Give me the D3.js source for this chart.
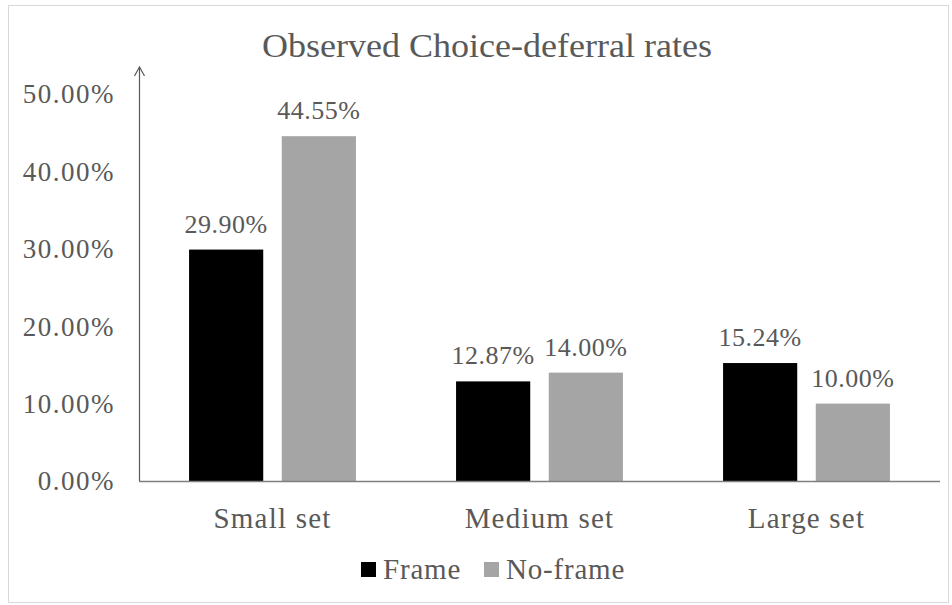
<!DOCTYPE html>
<html>
<head>
<meta charset="utf-8">
<script src="https://cdn.jsdelivr.net/npm/d3@7"></script>
<style>
  body { margin: 0; background: #fff; }
  text { font-family: "Liberation Serif", "Times New Roman", serif; fill: #595959; }
</style>
</head>
<body>
<script>
// data
var categories = ["Small set", "Medium set", "Large set"];
var seriesNames = ["Frame", "No-frame"];
var frameValues = [29.90, 12.87, 15.24];
var noFrameValues = [44.55, 14.00, 10.00];
var yTicks = [0, 10, 20, 30, 40, 50];
var colors = ["#000000", "#a5a5a5"];

var width = 952, height = 605;
var margin = {left: 139, right: 12, top: 94, bottom: 124};

var svg = d3.select("body").append("svg")
  .attr("width", width)
  .attr("height", height);

// outer border
svg.append("rect")
  .attr("x", 8.5).attr("y", 5.5)
  .attr("width", 940).attr("height", 597)
  .attr("fill", "none")
  .attr("stroke", "#d9d9d9");

var x0 = d3.scaleBand()
  .domain(categories)
  .range([margin.left, width - margin.right])
  .paddingInner(0.375)
  .paddingOuter(0.1875);

var x1 = d3.scaleBand()
  .domain(seriesNames)
  .range([0, x0.bandwidth()])
  .paddingInner(0.2);

var y = d3.scaleLinear()
  .domain([0, 50])
  .range([height - margin.bottom, margin.top]);

// title
svg.append("text")
  .attr("x", 487).attr("y", 57)
  .attr("text-anchor", "middle")
  .attr("textLength", 450)
  .attr("lengthAdjust", "spacingAndGlyphs")
  .style("font-size", "33px")
  .text("Observed Choice-deferral rates");

// y tick labels
svg.append("g").selectAll("text")
  .data(yTicks).enter().append("text")
  .attr("x", 115)
  .attr("y", function(d) { return y(d); })
  .attr("dy", "0.35em")
  .attr("text-anchor", "end")
  .style("font-size", "27px")
  .style("letter-spacing", "1.5px")
  .text(function(d) { return d3.format(".2f")(d) + "%"; });

// bars
var rows = categories.map(function(c, i) {
  return {cat: c, vals: [frameValues[i], noFrameValues[i]]};
});

var groups = svg.append("g").selectAll("g")
  .data(rows).enter().append("g")
  .attr("transform", function(d) { return "translate(" + x0(d.cat) + ",0)"; });

groups.selectAll("rect")
  .data(function(d) { return d.vals.map(function(v, j) { return {s: seriesNames[j], v: v, j: j}; }); })
  .enter().append("rect")
  .attr("x", function(d) { return x1(d.s); })
  .attr("y", function(d) { return y(d.v); })
  .attr("width", x1.bandwidth())
  .attr("height", function(d) { return y(0) - y(d.v); })
  .attr("fill", function(d) { return colors[d.j]; });

groups.selectAll("text")
  .data(function(d) { return d.vals.map(function(v, j) { return {s: seriesNames[j], v: v}; }); })
  .enter().append("text")
  .attr("x", function(d) { return x1(d.s) + x1.bandwidth() / 2; })
  .attr("y", function(d) { return y(d.v) - 17; })
  .attr("text-anchor", "middle")
  .style("font-size", "26px")
  .style("letter-spacing", "0.5px")
  .text(function(d) { return d3.format(".2f")(d.v) + "%"; });

// x baseline
svg.append("line")
  .attr("x1", margin.left).attr("x2", width - margin.right)
  .attr("y1", y(0) + 0.5).attr("y2", y(0) + 0.5)
  .attr("stroke", "#7f7f7f").attr("stroke-width", 1.5);

// y axis with arrow
svg.append("line")
  .attr("x1", margin.left + 0.5).attr("x2", margin.left + 0.5)
  .attr("y1", y(0)).attr("y2", 67)
  .attr("stroke", "#595959").attr("stroke-width", 1.2);
svg.append("path")
  .attr("d", "M" + (margin.left - 4.5) + ",76L" + (margin.left + 0.5) + ",67L" + (margin.left + 5.5) + ",76")
  .attr("fill", "none")
  .attr("stroke", "#595959").attr("stroke-width", 1.2);

// category labels
svg.append("g").selectAll("text")
  .data(categories).enter().append("text")
  .attr("x", function(d) { return x0(d) + x0.bandwidth() / 2; })
  .attr("y", 528)
  .attr("text-anchor", "middle")
  .style("font-size", "29px")
  .style("letter-spacing", "1.2px")
  .text(function(d) { return d; });

// legend
var legendX = [361, 484];
var legend = svg.append("g").selectAll("g")
  .data(seriesNames).enter().append("g")
  .attr("transform", function(d, i) { return "translate(" + legendX[i] + ",562)"; });
legend.append("rect")
  .attr("width", 15).attr("height", 15)
  .attr("fill", function(d, i) { return colors[i]; });
legend.append("text")
  .attr("x", 22).attr("y", 17)
  .style("font-size", "29px")
  .style("letter-spacing", "0.8px")
  .text(function(d) { return d; });
</script>
</body>
</html>
